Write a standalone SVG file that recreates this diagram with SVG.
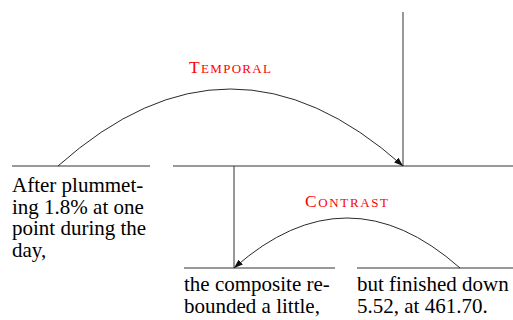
<svg xmlns="http://www.w3.org/2000/svg" width="513" height="320" viewBox="0 0 513 320">
<defs>
<marker id="ah" markerWidth="10" markerHeight="8" refX="9" refY="4" orient="auto" markerUnits="userSpaceOnUse">
<path d="M0,0.8 L9,4 L0,7.2 Z" fill="#111"/>
</marker>
</defs>
<g id="node-1">
<line x1="12" y1="166" x2="150" y2="166" stroke="#333" stroke-width="1"/>
<text x="12" y="192" font-family="'Liberation Serif', 'Times New Roman', serif" font-size="21">After plummet-</text>
<text x="12" y="213.5" font-family="'Liberation Serif', 'Times New Roman', serif" font-size="21">ing 1.8% at one</text>
<text x="12" y="235" font-family="'Liberation Serif', 'Times New Roman', serif" font-size="21">point during the</text>
<text x="12" y="256.5" font-family="'Liberation Serif', 'Times New Roman', serif" font-size="21">day,</text>
</g>
<g id="node-root">
<line x1="173" y1="166" x2="513" y2="166" stroke="#333" stroke-width="1"/>
</g>
<g id="node-2">
<line x1="184" y1="268" x2="335" y2="268" stroke="#333" stroke-width="1"/>
<text x="184" y="291" font-family="'Liberation Serif', 'Times New Roman', serif" font-size="21">the composite re-</text>
<text x="184" y="313" font-family="'Liberation Serif', 'Times New Roman', serif" font-size="21">bounded a little,</text>
</g>
<g id="node-3">
<line x1="357" y1="268" x2="513" y2="268" stroke="#333" stroke-width="1"/>
<text x="357" y="291" font-family="'Liberation Serif', 'Times New Roman', serif" font-size="21">but finished down</text>
<text x="357" y="313" font-family="'Liberation Serif', 'Times New Roman', serif" font-size="21">5.52, at 461.70.</text>
</g>
<g id="connectors" fill="none" stroke="#111" stroke-width="0.9">
<line x1="403" y1="12" x2="403" y2="166" stroke="#333" stroke-width="1"/>
<line x1="234" y1="166" x2="234" y2="268" stroke="#333" stroke-width="1"/>
<path d="M58,166 Q230.5,12 403,166" marker-end="url(#ah)"/>
<path d="M460,268 Q347,168 234,268" marker-end="url(#ah)"/>
<text x="189" y="72.7" textLength="82" lengthAdjust="spacing" font-family="'Liberation Serif', 'Times New Roman', serif" fill="#ff0000" stroke="none"><tspan font-size="17.5">T</tspan><tspan font-size="13">EMPORAL</tspan></text>
<text x="305" y="206.7" textLength="83" lengthAdjust="spacing" font-family="'Liberation Serif', 'Times New Roman', serif" fill="#ff0000" stroke="none"><tspan font-size="17.5">C</tspan><tspan font-size="13">ONTRAST</tspan></text>
</g>
</svg>
